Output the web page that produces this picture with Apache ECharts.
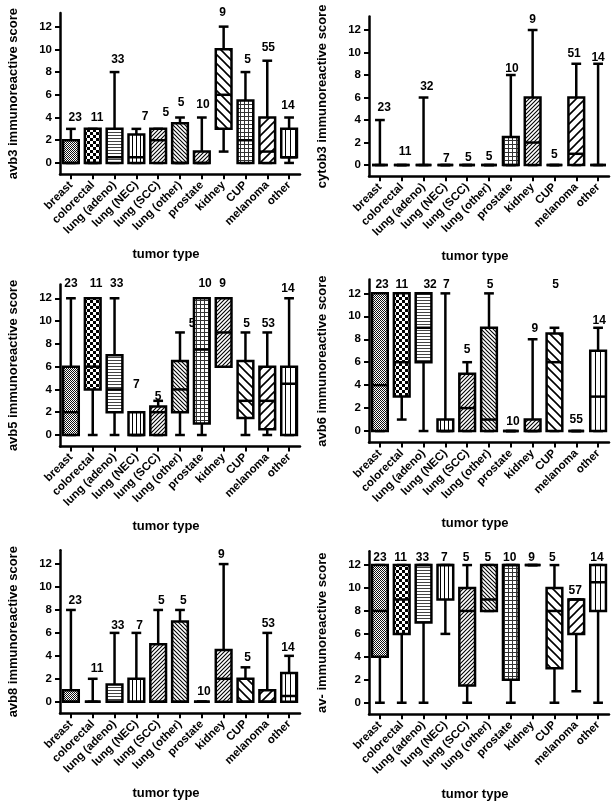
<!DOCTYPE html>
<html>
<head>
<meta charset="utf-8">
<script src="https://cdn.jsdelivr.net/npm/echarts@6/dist/echarts.min.js"></script>
<style>
html,body{margin:0;padding:0;background:#fff;}
#chart{width:614px;height:806px;}
</style>
</head>
<body>
<div id="chart"></div>
<script>
// ---------- DATA ----------
const categories = ['breast','colorectal','lung (adeno)','lung (NEC)','lung (SCC)','lung (other)','prostate','kidney','CUP','melanoma','other'];
const yTickValues = [0,2,4,6,8,10,12];
const xTickValues = [0,1,2,3,4,5,6,7,8,9,10];

// box values per category: [min, Q1, median, Q3, max]
const avb3Box = [[0,0,0,2,3],[0,0,0,3,3],[0,0,0.5,3,8],[0,0,0.5,2.5,3],[0,0,2,3,3],[0,0,0,3.5,4],[0,0,0,1,4],[1,3,6,10,12],[0,0,2,5.5,8],[0,0,1,4,9],[0,0.5,0.5,3,4]];
const cytob3Box = [[0,0,0,0,4],[0,0,0,0,0],[0,0,0,0,6],[0,0,0,0,0],[0,0,0,0,0],[0,0,0,0,0],[0,0,0,2.5,8],[0,0,2,6,12],[0,0,0,0,0],[0,0,1,6,9],[0,0,0,0,9]];
const avb5Box = [[0,0,2,6,12],[0,4,6,12,12],[0,2,4,7,12],[0,0,0,2,2],[0,0,2,2.5,3],[0,2,4,6.5,9],[0,1,7.5,12,12],[6,6,9,12,12],[0,1.5,3,6.5,9],[0,0.5,3,6,9],[0,0,4.5,6,12]];
const avb6Box = [[0,0,4,12,12],[1,3,6,12,12],[0,6,9,12,12],[0,0,0,1,12],[0,0,2,5,6],[0,0,1,9,12],[0,0,0,0,0],[0,0,0,1,8],[0,0,6,8.5,9],[0,0,0,0,0],[0,0,3,7,9]];
const avb8Box = [[0,0,0,1,8],[0,0,0,0,2],[0,0,0,1.5,6],[0,0,0,2,6],[0,0,0,5,8],[0,0,0,7,8],[0,0,0,0,0],[0,0,2,4.5,12],[0,0,0,2,3],[0,0,0,1,6],[0,0,0.5,2.5,4]];
const avBox = [[0,4,8,12,12],[0,6,9,12,12],[0,7,12,12,12],[6,9,12,12,12],[0,1.5,8,10,12],[8,8,9,12,12],[0,2,12,12,12],[12,12,12,12,12],[0,3,8,10,12],[1,6,9,9,9],[0,8,10.5,12,12]];

// sample sizes and where they are written: [category position, score]
const avb3N = [23,11,33,7,5,5,10,9,5,55,14];
const avb3NAt = [[0.2,3.95],[1.2,3.95],[2.15,9.1],[3.4,4.05],[4.35,4.4],[5.05,5.3],[6.05,5.1],[6.95,13.2],[8.1,9.05],[9.05,10.15],[9.95,5.0]];
const cytob3N = [23,11,32,7,5,5,10,9,5,51,14];
const cytob3NAt = [[0.2,5.1],[1.15,1.2],[2.15,7.0],[3.05,0.6],[4.05,0.65],[5.0,0.75],[6.05,8.6],[7.0,12.9],[8.0,0.9],[8.9,9.9],[10.0,9.5]];
const avb5N = [23,11,33,7,5,5,10,9,5,53,14];
const avb5NAt = [[0.0,13.25],[1.15,13.25],[2.1,13.25],[3.0,4.4],[4.0,3.4],[5.55,9.8],[6.15,13.25],[6.95,13.25],[8.05,9.8],[9.05,9.8],[9.95,12.8]];
const avb6N = [23,11,32,7,5,5,10,9,5,55,14];
const avb6NAt = [[0.1,12.75],[1.0,12.75],[2.3,12.75],[3.05,12.75],[4.0,7.05],[5.05,12.75],[6.1,0.85],[7.1,8.9],[8.05,12.75],[9.0,0.95],[10.05,9.6]];
const avb8N = [23,11,33,7,5,5,10,9,5,53,14];
const avb8NAt = [[0.2,8.85],[1.2,2.9],[2.15,6.6],[3.15,6.6],[4.15,8.85],[5.15,8.85],[6.1,0.9],[6.9,12.8],[8.1,3.8],[9.05,6.8],[9.95,4.75]];
const avN = [23,11,33,7,5,5,10,9,5,57,14];
const avNAt = [[0.0,12.65],[0.95,12.65],[1.95,12.65],[2.95,12.65],[3.95,12.65],[4.95,12.65],[5.95,12.65],[6.95,12.65],[7.9,12.65],[8.95,9.8],[9.95,12.65]];

const panelTitles = ['avb3 immunoreactive score','cytob3 immunoreactive score','avb5 immunoreactive score','avb6 immunoreactive score','avb8 immunoreactive score','av- immunoreactive score'];
const xTitle = 'tumor type';

// ---------- STYLE ----------
const FONT = '"Liberation Sans", Arial, sans-serif';
const LW = 2.5;

function makePattern(kind){
  const c = document.createElement('canvas');
  const sizes = {dots:2, checker:6, hlines:3, vlines:4, vwide:5, fwdDense:4, backDense:4, grid:4, fwdMed:4, backSparse:9, fwdSparse:9};
  const p = sizes[kind];
  c.width = p; c.height = p;
  const g = c.getContext('2d');
  g.fillStyle = '#fff'; g.fillRect(0,0,p,p);
  g.fillStyle = '#000'; g.strokeStyle = '#000';
  if (kind === 'dots'){ g.fillStyle='#111'; g.fillRect(0,0,1,1); g.fillRect(1,1,1,1); }
  else if (kind === 'checker'){ g.fillRect(0,0,3,3); g.fillRect(3,3,3,3); }
  else if (kind === 'hlines'){ g.fillStyle='#444'; g.fillRect(0,0,p,1); }
  else if (kind === 'vlines' || kind === 'vwide'){ g.fillRect(0,0,1,p); }
  else if (kind === 'grid'){ g.fillStyle='#333'; g.fillRect(0,0,p,1); g.fillRect(0,0,1,p); }
  else {
    const fwd = kind.indexOf('fwd') === 0;
    g.lineWidth = (kind === 'backSparse' || kind === 'fwdSparse') ? 1.6 : 1.1;
    g.beginPath();
    for (let k=-1;k<=2;k++){
      const cc = k*p;
      if (fwd){ g.moveTo(-2, cc+2); g.lineTo(cc+2, -2); }
      else { g.moveTo(cc-2, -2); g.lineTo(cc+p+2, p+2); }
    }
    g.stroke();
  }
  return {image: c, repeat: 'repeat'};
}

const stdPatterns = ['dots','checker','hlines','vlines','fwdDense','backDense','grid','fwdMed','backSparse','fwdSparse','vwide'];
const p1Patterns = ['dots','checker','hlines','vlines','fwdDense','backDense','fwdDense','backSparse','grid','fwdSparse','vwide'];
const patternCache = {};
function pat(k){ if(!patternCache[k]) patternCache[k]=makePattern(k); return patternCache[k]; }

const panels = [
  {box: avb3Box, n: avb3N, at: avb3NAt, pats: p1Patterns, grid:{left:60, top:13, width:240, height:161.3}},
  {box: cytob3Box, n: cytob3N, at: cytob3NAt, pats: stdPatterns, grid:{left:369, top:16.5, width:240, height:159.8}},
  {box: avb5Box, n: avb5N, at: avb5NAt, pats: stdPatterns, grid:{left:60, top:284.6, width:240, height:161.8}},
  {box: avb6Box, n: avb6N, at: avb6NAt, pats: stdPatterns, grid:{left:369, top:279.6, width:240, height:162.9}},
  {box: avb8Box, n: avb8N, at: avb8NAt, pats: stdPatterns, grid:{left:60, top:550.3, width:240, height:162.9}},
  {box: avBox, n: avN, at: avNAt, pats: stdPatterns, grid:{left:369, top:551.3, width:240, height:162.9}}
];

const option = {
  backgroundColor: '#fff',
  animation: false,
  grid: [], xAxis: [], yAxis: [], series: []
};

panels.forEach((pn, gi) => {
  option.grid.push(Object.assign({containLabel:false}, pn.grid));
  option.xAxis.push({
    type:'value', gridIndex: gi, min:-0.5, max:10.5,
    axisLine:{show:true, onZero:false, lineStyle:{color:'#000', width:LW}},
    axisTick:{show:true, customValues: xTickValues, length:5, lineStyle:{color:'#000', width:2}},
    axisLabel:{show:true, customValues: xTickValues, rotate:45, margin:9, color:'#000',
      fontFamily:FONT, fontWeight:'bold', fontSize:11.5,
      formatter: v => categories[Math.round(v)]},
    splitLine:{show:false},
    name: xTitle, nameLocation:'middle', nameGap:74,
    nameTextStyle:{color:'#000', fontFamily:FONT, fontWeight:'bold', fontSize:13, padding:[0,28,0,0]}
  });
  option.yAxis.push({
    type:'value', gridIndex: gi, min:-1, max:13.2,
    axisLine:{show:true, onZero:false, lineStyle:{color:'#000', width:LW}},
    axisTick:{show:true, customValues: yTickValues, length:5, lineStyle:{color:'#000', width:2}},
    axisLabel:{show:true, customValues: yTickValues, margin:8, color:'#000',
      fontFamily:FONT, fontWeight:'bold', fontSize:11.5},
    splitLine:{show:false},
    name: panelTitles[gi], nameLocation:'middle', nameGap:40,
    nameTextStyle:{color:'#000', fontFamily:FONT, fontWeight:'bold', fontSize:13}
  });
  // sample-size labels
  option.series.push({
    type:'custom', xAxisIndex: gi, yAxisIndex: gi, z:1,
    data: pn.at.map(a => [a[0], a[1]]),
    encode:{x:0, y:1},
    renderItem: (params, api) => {
      const pt = api.coord([api.value(0), api.value(1)]);
      return {type:'text', x: pt[0], y: pt[1],
        style:{text: String(pn.n[params.dataIndex]), fill:'#000',
          font: 'bold 12px ' + FONT, align:'center', verticalAlign:'middle'}};
    }
  });
  // boxes
  option.series.push({
    type:'custom', xAxisIndex: gi, yAxisIndex: gi, z:2,
    data: pn.box.map((b, i) => [i].concat(b)),
    encode:{x:0, y:[1,2,3,4,5]},
    renderItem: (params, api) => {
      const i = api.value(0);
      const x = api.coord([i, 0])[0];
      const yy = k => api.coord([i, api.value(k)])[1];
      const yMin = yy(1), yQ1 = yy(2), yMed = yy(3), yQ3 = yy(4), yMax = yy(5);
      const bw = api.size([0.72, 0])[0];
      const cw = bw * 0.62;
      const ls = {stroke:'#000', lineWidth:LW, fill:null};
      const line = (x1,y1,x2,y2) => ({type:'line', shape:{x1,y1,x2,y2}, style: ls});
      const ch = [
        line(x, yQ1, x, yMin), line(x-cw/2, yMin, x+cw/2, yMin),
        line(x, yQ3, x, yMax), line(x-cw/2, yMax, x+cw/2, yMax),
        {type:'rect', shape:{x:x-bw/2, y:yQ3, width:bw, height:yQ1-yQ3},
          style:{fill: pat(pn.pats[params.dataIndex]), stroke:'#000', lineWidth:LW}},
        line(x-bw/2, yMed, x+bw/2, yMed)
      ];
      return {type:'group', children: ch};
    }
  });
});

const chart = echarts.init(document.getElementById('chart'), null, {renderer:'canvas'});
chart.setOption(option);
</script>
</body>
</html>
